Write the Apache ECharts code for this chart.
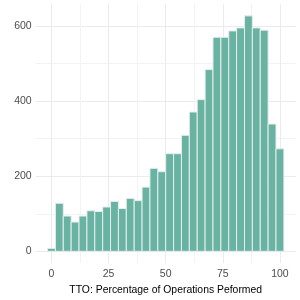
<!DOCTYPE html>
<html>
<head>
<meta charset="utf-8">
<script src="https://cdn.jsdelivr.net/npm/echarts@6/dist/echarts.min.js"></script>
<style>
html,body{margin:0;padding:0;background:#fff;}
#chart{width:300px;height:300px;}
</style>
</head>
<body>
<div id="chart"></div>
<script>
// Histogram: 30 bins spanning 0..100 (bin centres at 0 and 100)
const binCount = 30;
const rangeMin = 0;
const rangeMax = 100;
const counts = [8, 128, 94, 78, 94, 108, 106, 118, 133, 114,
                141, 135, 171, 221, 212, 260, 260, 309, 371, 404,
                484, 570, 570, 587, 595, 627, 595, 589, 339, 273];
const xTicks = [0, 25, 50, 75, 100];
const xMinorTicks = [12.5, 37.5, 62.5, 87.5];
const yTicks = [0, 200, 400, 600];
const yMinorTicks = [100, 300, 500];
const xTitle = 'TTO: Percentage of Operations Peformed';

const binWidth = (rangeMax - rangeMin) / (binCount - 1);
const bins = counts.map((c, i) => {
  const centre = rangeMin + i * binWidth;
  return [centre - binWidth / 2, centre + binWidth / 2, c];
});

// ggplot-style 5% expansion
const xLo = rangeMin - binWidth / 2, xHi = rangeMax + binWidth / 2;
const xPad = (xHi - xLo) * 0.05;
const yMaxData = Math.max(...counts);
const yPad = yMaxData * 0.05;

const font = 'Liberation Sans';
const gridMajor = {show: true, lineStyle: {color: '#ebebeb', width: 1}};
const gridMinor = {show: true, lineStyle: {color: '#f3f3f3', width: 1}};

const chart = echarts.init(document.getElementById('chart'));
chart.setOption({
  animation: false,
  backgroundColor: '#ffffff',
  grid: {left: 35.7, right: 4.3, top: 4.1, bottom: 28.6, containLabel: false},
  xAxis: [{
    type: 'value', min: xLo - xPad, max: xHi + xPad,
    axisLine: {show: false},
    axisTick: {show: false, customValues: xTicks},
    axisLabel: {customValues: xTicks, color: '#4d4d4d', fontFamily: font, fontSize: 10.5, margin: 6},
    splitLine: gridMajor,
    name: xTitle, nameLocation: 'middle', nameGap: 16,
    nameTextStyle: {color: '#000000', fontFamily: font, fontSize: 10.4}
  }, {
    type: 'value', min: xLo - xPad, max: xHi + xPad,
    axisLine: {show: false},
    axisTick: {show: false, customValues: xMinorTicks},
    axisLabel: {show: false, customValues: xMinorTicks},
    splitLine: gridMinor
  }],
  yAxis: [{
    type: 'value', min: -yPad, max: yMaxData + yPad,
    axisLine: {show: false},
    axisTick: {show: false, customValues: yTicks},
    axisLabel: {customValues: yTicks, color: '#4d4d4d', fontFamily: font, fontSize: 10.5, margin: 4},
    splitLine: gridMajor
  }, {
    type: 'value', min: -yPad, max: yMaxData + yPad,
    axisLine: {show: false},
    axisTick: {show: false, customValues: yMinorTicks},
    axisLabel: {show: false, customValues: yMinorTicks},
    splitLine: gridMinor
  }],
  series: [{
    type: 'custom',
    xAxisIndex: 0, yAxisIndex: 0,
    data: bins,
    encode: {x: [0, 1], y: 2},
    renderItem: function (params, api) {
      const p0 = api.coord([api.value(0), api.value(2)]);
      const p1 = api.coord([api.value(1), 0]);
      return {
        type: 'rect',
        shape: {x: p0[0], y: p0[1], width: p1[0] - p0[0], height: p1[1] - p0[1]},
        style: {fill: '#69b3a2', stroke: '#e9ecef', lineWidth: 1}
      };
    }
  }]
});
</script>
</body>
</html>
